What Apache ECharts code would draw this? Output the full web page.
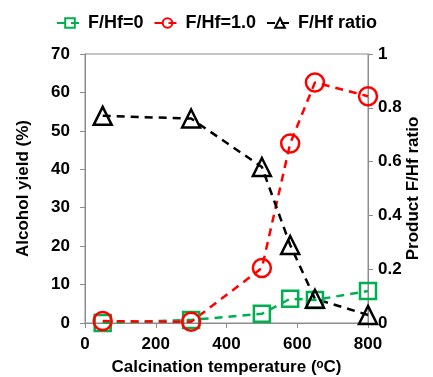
<!DOCTYPE html>
<html>
<head>
<meta charset="utf-8">
<script src="https://cdn.jsdelivr.net/npm/echarts@6/dist/echarts.min.js"></script>
<style>
  html, body { margin: 0; padding: 0; background: #fff; }
  #chart { width: 433px; height: 377px; }
</style>
</head>
<body>
<div id="chart"></div>
<script>
  // calcination temperature (oC)
  var temps = [50, 300, 500, 580, 650, 800];
  // alcohol yield (%)
  var yieldF0 = [0, 0.8, 2.4, 6.3, 6.0, 8.3];
  var yieldF1 = [0.5, 0.3, 14.3, 46.7, 62.6, 59.0];
  // product F/Hf ratio
  var ratio = [0.77, 0.76, 0.58, 0.29, 0.09, 0.03];

  var leftTicks = [0, 70, 10];
  var rightTicks = [0, 1, 0.2];

  function pairs(xs, ys) {
    return xs.map(function (x, i) { return [x, ys[i]]; });
  }

  var font = 'Liberation Sans, Arial, sans-serif';
  var axisGray = '#8c8c8c';
  var lbl = { fontSize: 17, fontWeight: 'bold', color: '#000' };

  var chart = echarts.init(document.getElementById('chart'));

  function mkSeries(name, data, color, symbol, size, yIdx) {
    return {
      name: name,
      type: 'line',
      yAxisIndex: yIdx,
      data: data,
      symbol: symbol,
      symbolSize: size,
      lineStyle: { color: color, width: 2.5, type: [8, 6] },
      itemStyle: { color: 'rgba(255,255,255,0)', borderColor: color, borderWidth: 2.5 },
      emphasis: { disabled: true },
      animation: false
    };
  }

  var option = {
    textStyle: { fontFamily: font },
    legend: {
      top: 9,
      left: 'center',
      itemGap: 10,
      itemWidth: 26,
      itemHeight: 12,
      textStyle: { fontSize: 18, fontWeight: 'bold', color: '#000', fontFamily: font },
      data: ['F/Hf=0', 'F/Hf=1.0', 'F/Hf ratio']
    },
    grid: {
      left: 85, right: 65, top: 54, bottom: 54,
      containLabel: false,
      outerBoundsMode: 'none',
      show: true, borderColor: axisGray, borderWidth: 1
    },
    xAxis: {
      type: 'value',
      min: 0, max: 800, interval: 200,
      name: 'Calcination temperature (ᵒC)',
      nameLocation: 'middle',
      nameGap: 36,
      nameTextStyle: lbl,
      axisLine: { show: true, lineStyle: { color: axisGray } },
      axisTick: { show: true, length: 5, lineStyle: { color: axisGray } },
      axisLabel: Object.assign({ margin: 13 }, lbl),
      splitLine: { show: false }
    },
    yAxis: [{
      type: 'value',
      min: leftTicks[0], max: leftTicks[1], interval: leftTicks[2],
      name: 'Alcohol yield (%)',
      nameLocation: 'middle',
      nameGap: 53,
      nameTextStyle: lbl,
      axisLine: { show: true, lineStyle: { color: axisGray } },
      axisTick: { show: true, length: 5, lineStyle: { color: axisGray } },
      axisLabel: Object.assign({ margin: 15 }, lbl),
      splitLine: { show: false }
    }, {
      type: 'value',
      position: 'right',
      min: rightTicks[0], max: rightTicks[1], interval: rightTicks[2],
      name: 'Product F/Hf ratio',
      nameLocation: 'middle',
      nameGap: 37,
      nameRotate: 90,
      nameMoveOverlap: false,
      nameTextStyle: lbl,
      axisLine: { show: true, lineStyle: { color: axisGray } },
      axisTick: { show: true, length: 5, lineStyle: { color: axisGray } },
      axisLabel: Object.assign({ margin: 10 }, lbl),
      splitLine: { show: false }
    }],
    series: [
      mkSeries('F/Hf=0', pairs(temps, yieldF0), '#00b050', 'rect', 16, 0),
      mkSeries('F/Hf=1.0', pairs(temps, yieldF1), '#ff0000', 'circle', 18, 0),
      mkSeries('F/Hf ratio', pairs(temps, ratio), '#000000', 'triangle', 18, 1)
    ]
  };

  chart.setOption(option);
</script>
</body>
</html>
